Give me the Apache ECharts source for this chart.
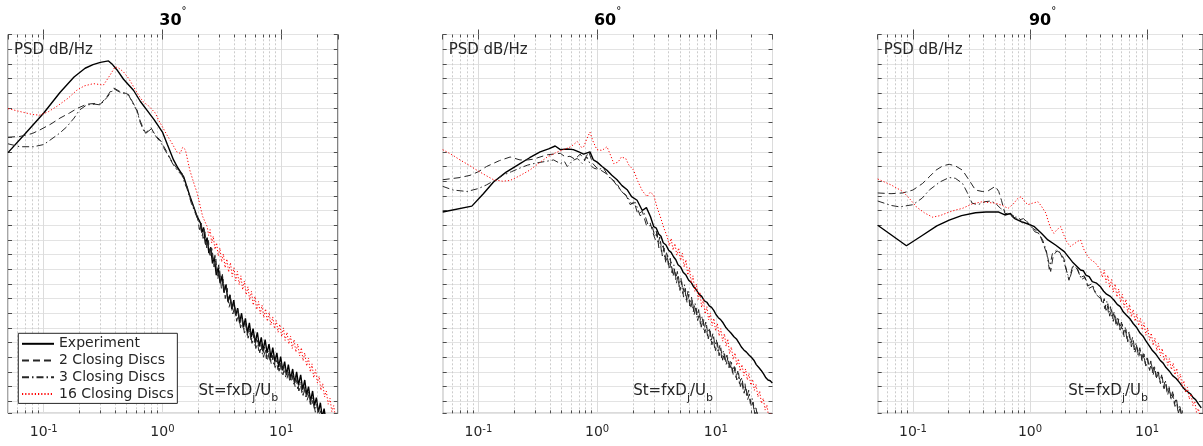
<!DOCTYPE html>
<html><head><meta charset="utf-8">
<script src="https://cdn.jsdelivr.net/npm/echarts@6/dist/echarts.min.js"></script>
<style>html,body{margin:0;padding:0;background:#fff}#c{width:1203px;height:446px}</style>
</head><body><div id="c"></div>
<script>
// ---------------- data ----------------
const panelTitles = ['30', '60', '90'];
const seriesNames = ['Experiment', '2 Closing Discs', '3 Closing Discs', '16 Closing Discs'];
const yLabelText = 'PSD dB/Hz';
const xLabelParts = ['St=fxD', 'j', '/U', 'b'];
const xMin = 0.05, xMax = 30;
const yMin = 48.36, yMax = 100;          // dB range shown (2 dB per grid line)
const yGridStep = 2;
const minorX = [0.06,0.07,0.08,0.09,0.2,0.3,0.4,0.5,0.6,0.7,0.8,0.9,2,3,4,5,6,7,8,9,20];

// ---- 30 deg ----
const exp30 = [[0.05,83.9],[0.07,86.5],[0.1,89.3],[0.137,92.1],[0.18,94.2],[0.223,95.4],[0.26,95.9],[0.3,96.2],[0.351,96.4],[0.38,95.9],[0.413,95.2],[0.47,93.9],[0.57,92.4],[0.65,90.9],[0.74,89.7],[0.85,88.4],[1.0,86.7],[1.1,85.0],[1.24,82.9],[1.35,81.8],[1.51,80.6],[1.7,78.0],[1.96,75.2],[2.09,74.3],
 [2.15,73.0],[2.22,73.7],[2.3,71.5],[2.38,72.3],[2.46,70.2],[2.55,71.0],[2.64,68.8],[2.74,69.6],[2.84,67.2],[2.95,68.2],[3.06,66.1],[3.18,67.1],[3.3,64.8],[3.43,65.9],[3.56,63.6],[3.7,64.5],[3.84,62.6],[3.99,63.8],[4.14,61.7],[4.3,62.7],[4.47,60.7],[4.64,62.0],[4.82,60.1],[5.0,61.3],[5.2,59.3],[5.4,60.7],[5.6,58.7],[5.8,59.9],[6.05,58.0],[6.3,59.4],[6.55,57.5],[6.8,58.7],[7.05,56.9],[7.33,58.4],[7.6,56.6],[7.9,57.8],[8.2,55.9],[8.5,57.3],[8.85,55.4],[9.2,56.6],[9.55,54.7],[9.9,56.1],[10.3,54.2],[10.7,55.4],[11.1,53.6],[11.5,55.0],[12.0,53.1],[12.5,54.4],[13.0,52.5],[13.5,54.0],[14.0,52.2],[14.6,53.6],[15.2,51.6],[15.8,52.9],[16.4,50.9],[17.0,52.0],[17.7,50.0],[18.4,51.4],[19.1,49.4],[19.8,50.5],[20.6,48.5],[21.4,49.8],[22.2,47.8],[23.0,49.0],[24,47.0],[25,47.5]];
const d2_30 = [[0.05,86.0],[0.063,86.1],[0.08,86.5],[0.093,87.0],[0.115,87.8],[0.137,88.6],[0.165,89.3],[0.19,89.9],[0.23,90.5],[0.27,90.6],[0.30,90.5],[0.34,91.5],[0.37,92.4],[0.39,92.7],[0.43,92.3],[0.485,92.0],[0.52,91.8],[0.56,90.8],[0.61,89.7],[0.65,88.2],[0.69,87.2],[0.72,86.6],[0.76,86.9],[0.8,87.3],[0.84,86.7],[0.9,86.0],[0.96,85.6],[1.02,84.8],[1.09,84.0],[1.17,83.0],[1.24,82.4],[1.33,81.7],[1.46,81.1],[1.55,79.8],[1.61,79.3],[1.75,77.3],[1.96,75.2],
 [2.05,73.4],[2.12,74.3],[2.2,72.2],[2.28,73.1],[2.36,70.9],[2.44,71.9],[2.53,69.6],[2.62,70.8],[2.72,68.3],[2.82,69.4],[2.92,66.6],[3.03,68.0],[3.14,65.3],[3.26,66.6],[3.38,64.0],[3.51,65.4],[3.64,62.8],[3.78,63.9],[3.92,61.9],[4.07,63.0],[4.22,60.9],[4.38,62.0],[4.55,60.0],[4.72,61.2],[4.9,59.3],[5.08,60.4],[5.27,58.6],[5.47,59.7],[5.68,57.9],[5.9,59.0],[6.12,57.2],[6.35,58.3],[6.6,56.6],[6.85,57.7],[7.1,56.0],[7.37,57.1],[7.65,55.6],[7.95,56.6],[8.25,55.1],[8.55,56.2],[8.9,54.6],[9.25,55.7],[9.6,54.1],[9.95,55.2],[10.35,53.6],[10.75,54.7],[11.2,53.1],[11.6,54.2],[12.1,52.6],[12.6,53.6],[13.1,52.0],[13.6,53.0],[14.1,51.4],[14.7,52.4],[15.3,50.8],[15.9,51.8],[16.5,50.1],[17.2,51.0],[17.9,49.3],[18.6,50.2],[19.4,48.5],[20.2,49.3],[21.0,47.6],[21.9,48.4],[23,46.8]];
const d3_30 = [[0.05,85.1],[0.063,84.7],[0.082,84.7],[0.1,85.0],[0.113,85.6],[0.135,86.5],[0.156,87.4],[0.18,88.6],[0.2,89.7],[0.23,90.4],[0.27,90.5],[0.30,90.4],[0.34,91.4],[0.39,92.6],[0.43,92.2],[0.485,91.9],[0.52,91.7],[0.56,90.7],[0.61,89.6],[0.65,88.0],[0.69,87.0],[0.72,86.5],[0.76,86.8],[0.8,87.1],[0.84,86.6],[0.9,85.9],[0.96,85.4],[1.02,84.6],[1.09,83.8],[1.17,82.9],[1.24,82.2],[1.33,81.5],[1.46,80.8],[1.55,79.6],[1.61,79.0],[1.75,77.0],[1.96,75.0],
 [2.08,74.1],[2.16,72.6],[2.24,73.5],[2.32,71.3],[2.4,72.3],[2.49,70.0],[2.58,71.1],[2.67,68.8],[2.77,69.9],[2.87,67.4],[2.98,68.6],[3.09,66.0],[3.2,67.3],[3.32,64.8],[3.45,65.9],[3.58,63.5],[3.71,64.7],[3.85,62.4],[4.0,63.5],[4.15,61.5],[4.31,62.5],[4.47,60.6],[4.64,61.6],[4.81,59.7],[4.99,60.8],[5.18,59.0],[5.38,60.0],[5.58,58.2],[5.79,59.3],[6.01,57.6],[6.24,58.6],[6.48,56.9],[6.72,58.0],[6.97,56.3],[7.24,57.4],[7.51,55.8],[7.8,56.9],[8.1,55.3],[8.4,56.3],[8.72,54.8],[9.05,55.9],[9.4,54.3],[9.75,55.4],[10.1,53.8],[10.5,54.9],[10.9,53.3],[11.35,54.4],[11.8,52.8],[12.3,53.8],[12.8,52.3],[13.3,53.3],[13.8,51.7],[14.4,52.7],[15.0,51.0],[15.6,52.0],[16.2,50.4],[16.9,51.3],[17.6,49.6],[18.3,50.5],[19.1,48.8],[19.9,49.6],[20.7,47.9],[21.5,48.7],[22.5,47.0]];
const r16_30 = [[0.05,89.9],[0.063,89.5],[0.08,89.1],[0.093,89.0],[0.11,89.5],[0.129,90.2],[0.16,91.3],[0.19,92.4],[0.22,93.0],[0.262,93.3],[0.29,93.2],[0.318,93.1],[0.34,93.8],[0.363,94.5],[0.40,95.6],[0.43,95.4],[0.47,94.9],[0.52,94.0],[0.57,92.9],[0.63,91.7],[0.69,90.8],[0.76,90.3],[0.87,89.3],[0.93,88.3],[1.0,87.4],[1.1,86.2],[1.22,85.0],[1.32,84.0],[1.41,83.8],[1.48,84.6],[1.56,84.3],[1.7,81.5],[1.85,79.6],[1.96,78.4],[2.08,76.6],[2.18,75.2],[2.38,73.8],
 [2.45,72.6],[2.52,73.4],[2.6,71.6],[2.68,72.5],[2.77,70.7],[2.86,71.6],[2.95,69.8],[3.05,70.9],[3.15,69.0],[3.26,70.1],[3.37,68.2],[3.49,69.4],[3.61,67.6],[3.74,68.9],[3.87,67.0],[4.0,68.2],[4.14,66.4],[4.28,67.7],[4.43,65.9],[4.58,67.1],[4.74,65.2],[4.9,66.4],[5.07,64.5],[5.25,65.6],[5.43,63.8],[5.62,65.0],[5.82,63.1],[6.02,64.3],[6.23,62.5],[6.45,63.6],[6.67,61.9],[6.9,63.1],[7.14,61.4],[7.39,62.6],[7.65,60.9],[7.92,62.1],[8.2,60.4],[8.49,61.5],[8.79,59.9],[9.1,61.0],[9.42,59.4],[9.75,60.5],[10.1,58.8],[10.45,60.0],[10.8,58.3],[11.2,59.4],[11.6,57.8],[12.0,58.9],[12.4,57.2],[12.85,58.4],[13.3,56.7],[13.8,57.8],[14.3,56.2],[14.8,57.3],[15.3,55.5],[15.8,56.6],[16.4,54.8],[17.0,55.9],[17.6,54.0],[18.2,55.1],[18.8,53.2],[19.5,54.3],[20.2,52.5],[20.9,53.4],[21.6,51.5],[22.4,52.4],[23.2,50.6],[24.0,51.4],[24.9,49.6],[25.8,50.4],[26.7,48.6],[27.7,49.4],[28.8,47.6],[30,48.2]];

// ---- 60 deg ----
const exp60 = [[0.05,75.8],[0.088,76.6],[0.11,78.3],[0.134,79.9],[0.17,81.2],[0.224,82.4],[0.27,83.2],[0.331,84.0],[0.39,84.4],[0.443,84.8],[0.49,84.3],[0.56,84.4],[0.63,84.3],[0.7,84.0],[0.77,83.7],[0.87,84.0],[0.93,82.9],[1.0,82.6],[1.1,82.0],[1.21,81.5],[1.33,80.8],[1.47,80.2],[1.62,79.4],[1.8,78.8],[1.95,77.9],[2.17,77.4],[2.4,76.0],[2.6,76.4],[2.81,75.2],
 [3.0,73.8],[3.15,73.6],[3.3,72.8],[3.45,72.5],[3.6,71.6],[3.8,71.3],[4.0,70.6],[4.2,70.3],[4.4,69.7],[4.6,69.3],[4.8,68.6],[5.05,68.3],[5.3,67.6],[5.6,67.2],[5.9,66.5],[6.2,66.2],[6.5,65.6],[6.85,65.2],[7.2,64.6],[7.6,64.3],[8.0,63.7],[8.4,63.5],[8.8,63.0],[9.2,62.8],[9.6,62.4],[10.05,61.8],[10.5,61.4],[11.0,61.1],[11.5,60.7],[12.1,60.1],[12.7,59.7],[13.4,59.3],[14.2,58.8],[14.9,58.5],[15.6,58.0],[16.4,57.4],[17.2,57.0],[18.1,56.7],[19,56.3],[19.9,56.0],[20.9,55.6],[21.9,55.0],[23,54.6],[24.1,54.2],[25.3,53.7],[26.4,53.2],[27.5,52.9],[28.7,52.8],[29.9,52.5]];
const d2_60 = [[0.05,80.2],[0.07,80.5],[0.085,80.8],[0.1,81.3],[0.117,82.0],[0.15,82.8],[0.185,83.3],[0.224,82.9],[0.26,82.9],[0.29,83.0],[0.33,83.3],[0.38,83.6],[0.43,83.7],[0.49,83.8],[0.54,83.3],[0.59,83.4],[0.65,83.0],[0.72,83.7],[0.78,82.9],[0.85,84.0],[0.92,82.4],[0.995,81.8],[1.1,81.4],[1.2,81.0],[1.3,80.4],[1.45,79.8],[1.6,78.6],[1.75,78.1],[1.9,76.8],[2.05,77.2],[2.2,75.5],[2.4,75.9],[2.6,74.0],[2.8,74.3],[3.0,72.6],
 [3.1,72.0],[3.2,72.9],[3.31,70.9],[3.42,71.8],[3.54,69.8],[3.66,70.9],[3.79,68.8],[3.92,69.9],[4.06,67.9],[4.2,69.0],[4.35,67.0],[4.5,68.1],[4.66,66.1],[4.82,67.3],[4.99,65.1],[5.16,66.3],[5.34,64.2],[5.53,65.4],[5.72,63.4],[5.92,64.6],[6.13,62.6],[6.34,63.8],[6.56,61.8],[6.79,63.0],[7.03,61.0],[7.28,62.1],[7.53,60.1],[7.8,61.2],[8.07,59.3],[8.35,60.4],[8.64,58.5],[8.95,59.6],[9.26,57.7],[9.59,58.8],[9.93,56.9],[10.3,58.0],[10.65,56.2],[11.0,57.3],[11.4,55.6],[11.8,56.6],[12.2,55.0],[12.65,56.0],[13.1,54.3],[13.55,55.3],[14.0,53.6],[14.5,54.6],[15.0,52.9],[15.55,53.8],[16.1,52.0],[16.7,52.9],[17.3,51.1],[17.9,52.0],[18.5,50.2],[19.2,51.0],[19.9,49.2],[20.6,49.9],[21.3,48.2],[22.1,48.8],[23,47.2]];
const d3_60 = [[0.05,79.3],[0.061,78.8],[0.07,78.7],[0.08,78.6],[0.1,79.0],[0.117,79.5],[0.14,80.2],[0.16,80.8],[0.19,81.3],[0.224,81.8],[0.26,82.2],[0.31,82.5],[0.37,82.7],[0.43,82.9],[0.49,82.4],[0.53,82.7],[0.56,82.0],[0.62,82.8],[0.68,83.1],[0.75,82.4],[0.82,83.3],[0.88,82.2],[0.93,81.8],[1.02,81.6],[1.13,81.8],[1.25,80.6],[1.38,80.0],[1.5,79.2],[1.65,78.4],[1.8,77.9],[1.95,76.9],[2.1,77.1],[2.3,75.3],[2.5,75.6],[2.7,73.9],[2.9,74.0],[3.05,72.5],
 [3.15,73.2],[3.26,71.5],[3.37,72.4],[3.48,70.4],[3.6,71.4],[3.73,69.3],[3.86,70.4],[3.99,68.4],[4.13,69.5],[4.28,67.5],[4.43,68.6],[4.58,66.6],[4.74,67.7],[4.91,65.6],[5.08,66.8],[5.26,64.7],[5.44,65.9],[5.63,63.8],[5.83,65.0],[6.03,63.0],[6.24,64.2],[6.46,62.2],[6.68,63.4],[6.92,61.4],[7.16,62.5],[7.41,60.5],[7.67,61.6],[7.94,59.7],[8.22,60.8],[8.5,58.9],[8.8,60.0],[9.1,58.1],[9.43,59.2],[9.76,57.3],[10.1,58.4],[10.45,56.6],[10.8,57.6],[11.2,55.9],[11.6,56.9],[12.0,55.3],[12.4,56.3],[12.85,54.6],[13.3,55.6],[13.8,53.9],[14.25,54.9],[14.75,53.2],[15.3,54.1],[15.8,52.4],[16.4,53.3],[17.0,51.5],[17.6,52.4],[18.2,50.6],[18.9,51.5],[19.5,49.7],[20.2,50.4],[21.0,48.7],[21.7,49.3],[22.5,47.7],[23.5,47.2]];
const r16_60 = [[0.05,84.3],[0.06,83.6],[0.07,82.9],[0.083,82.2],[0.097,81.5],[0.115,80.8],[0.134,80.2],[0.16,80.0],[0.185,80.1],[0.22,80.7],[0.27,81.5],[0.32,82.4],[0.38,83.3],[0.45,83.9],[0.52,84.3],[0.6,84.7],[0.68,85.4],[0.74,84.6],[0.77,84.7],[0.82,85.8],[0.87,86.7],[0.92,85.5],[0.995,84.3],[1.1,84.2],[1.21,84.7],[1.3,83.5],[1.38,82.4],[1.5,82.6],[1.6,83.3],[1.74,83.1],[1.85,82.2],[2.03,81.5],[2.2,80.0],[2.4,78.7],[2.63,77.9],[2.8,78.5],[3.0,78.1],[3.2,76.4],[3.4,75.2],[3.65,73.6],[3.9,72.4],
 [4.05,71.2],[4.2,72.2],[4.36,70.6],[4.52,71.5],[4.69,69.9],[4.86,70.9],[5.04,69.2],[5.22,70.2],[5.41,68.3],[5.6,69.3],[5.8,67.2],[6.0,68.2],[6.2,66.1],[6.42,67.1],[6.64,65.0],[6.86,66.0],[7.1,63.9],[7.34,64.9],[7.59,62.8],[7.85,63.9],[8.12,61.9],[8.4,62.9],[8.69,61.1],[8.99,62.0],[9.3,60.3],[9.62,61.3],[9.95,59.6],[10.3,60.6],[10.65,58.9],[11.0,59.9],[11.4,58.2],[11.8,59.2],[12.2,57.5],[12.6,58.5],[13.05,56.5],[13.5,57.4],[14.0,55.7],[14.5,56.6],[15.0,54.9],[15.5,55.8],[16.0,54.1],[16.6,55.0],[17.2,53.5],[17.8,54.4],[18.4,52.9],[19.0,53.8],[19.7,52.2],[20.4,53.0],[21.1,51.5],[21.8,52.3],[22.6,50.6],[23.4,51.4],[24.2,49.7],[25.1,50.4],[26.0,48.8],[26.9,49.5],[27.9,47.8],[29,48.3],[30,47.2]];

// ---- 90 deg ----
const exp90 = [[0.05,74.0],[0.088,71.2],[0.12,72.6],[0.16,73.9],[0.204,74.7],[0.26,75.3],[0.342,75.7],[0.42,75.8],[0.54,75.8],[0.61,75.4],[0.68,75.6],[0.74,74.9],[0.84,74.5],[0.95,74.2],[1.09,73.8],[1.25,72.9],[1.42,72.0],[1.65,71.3],[1.96,70.4],[2.3,69.0],[2.7,67.9],
 [2.85,67.8],[3.0,67.2],[3.2,67.0],[3.4,66.3],[3.7,66.1],[4.0,65.6],[4.25,65.0],[4.5,64.6],[4.85,64.3],[5.2,63.8],[5.55,63.2],[5.9,62.9],[6.25,62.2],[6.6,61.8],[7.1,61.3],[7.6,60.6],[8.1,60.1],[8.7,59.3],[9.2,58.9],[9.7,58.3],[10.3,57.7],[11.0,57.0],[11.9,56.4],[12.9,55.6],[13.7,55.2],[14.5,54.6],[15.5,54.1],[16.5,53.5],[17.7,53.1],[19,52.5],[20,52.0],[21,51.6],[22.2,51.3],[23.5,51.0],[24.7,50.5],[26,50.2],[27.5,49.6],[29,49.1]];
const d2_90 = [[0.05,78.4],[0.065,78.3],[0.082,78.4],[0.1,78.8],[0.121,79.7],[0.14,80.7],[0.157,81.5],[0.18,82.1],[0.204,82.3],[0.23,82.1],[0.265,81.5],[0.3,80.2],[0.342,78.8],[0.39,78.6],[0.44,78.7],[0.505,79.3],[0.54,78.6],[0.57,77.4],[0.61,75.6],[0.66,75.6],[0.72,75.0],[0.79,75.2],[0.86,74.3],[0.92,74.7],[1.0,74.0],[1.1,73.1],[1.2,72.9],[1.3,71.4],[1.4,70.0],[1.5,67.7],[1.58,69.9],[1.7,70.5],[1.83,70.2],[1.95,69.4],[2.05,67.8],[2.15,66.5],[2.3,68.3],[2.5,68.2],[2.7,66.9],[2.9,67.1],[3.1,65.7],[3.35,66.0],[3.6,64.8],[4.0,64.3],
 [4.15,63.2],[4.3,64.0],[4.46,62.4],[4.62,63.3],[4.79,61.6],[4.96,62.6],[5.14,60.9],[5.33,61.9],[5.52,60.2],[5.72,61.2],[5.93,59.5],[6.14,60.5],[6.36,58.8],[6.59,59.8],[6.83,58.1],[7.08,59.1],[7.34,57.4],[7.6,58.4],[7.88,56.7],[8.16,57.7],[8.46,56.0],[8.76,57.0],[9.08,55.4],[9.41,56.4],[9.75,54.8],[10.1,55.8],[10.5,54.2],[10.85,55.2],[11.25,53.6],[11.65,54.6],[12.1,53.0],[12.5,54.0],[13.0,52.4],[13.45,53.3],[13.95,51.7],[14.45,52.6],[15.0,50.9],[15.5,51.8],[16.1,50.1],[16.7,51.0],[17.3,49.3],[17.9,50.1],[18.5,48.4],[19.2,49.2],[19.9,47.5]];
const d3_90 = [[0.05,77.3],[0.065,76.7],[0.077,76.5],[0.1,76.8],[0.12,77.7],[0.138,78.8],[0.17,79.9],[0.204,80.5],[0.23,80.4],[0.265,79.7],[0.29,78.5],[0.32,77.0],[0.36,76.8],[0.41,77.2],[0.46,77.3],[0.505,77.0],[0.56,76.3],[0.65,75.6],[0.72,75.3],[0.8,74.7],[0.88,74.9],[0.96,74.3],[1.05,73.6],[1.15,73.2],[1.28,72.0],[1.38,70.5],[1.46,68.0],[1.55,70.1],[1.68,70.6],[1.8,70.3],[1.95,69.0],[2.1,67.2],[2.2,66.9],[2.35,68.5],[2.55,68.0],[2.75,66.6],[2.95,66.9],[3.2,65.4],[3.45,65.7],[3.7,64.5],[4.0,64.0],
 [4.2,63.8],[4.36,62.6],[4.52,63.6],[4.69,61.9],[4.86,62.9],[5.04,61.2],[5.23,62.2],[5.42,60.5],[5.62,61.5],[5.83,59.8],[6.04,60.8],[6.26,59.1],[6.49,60.1],[6.73,58.4],[6.98,59.4],[7.23,57.7],[7.5,58.7],[7.77,57.0],[8.06,58.0],[8.35,56.3],[8.66,57.3],[8.98,55.7],[9.3,56.7],[9.64,55.1],[10.0,56.1],[10.35,54.5],[10.75,55.5],[11.1,53.9],[11.5,54.9],[11.95,53.3],[12.4,54.2],[12.85,52.6],[13.3,53.6],[13.8,51.9],[14.3,52.9],[14.8,51.2],[15.35,52.1],[15.9,50.4],[16.5,51.3],[17.1,49.6],[17.7,50.4],[18.3,48.7],[19.0,49.5],[19.7,47.8],[20.5,48.2],[21.5,47.0]];
const r16_90 = [[0.05,80.3],[0.065,79.5],[0.082,78.6],[0.095,77.5],[0.107,76.5],[0.125,75.7],[0.147,75.1],[0.17,75.3],[0.204,75.8],[0.235,76.1],[0.265,76.3],[0.32,76.9],[0.39,77.2],[0.44,77.1],[0.505,77.0],[0.58,76.7],[0.65,76.3],[0.72,76.9],[0.78,77.6],[0.84,77.9],[0.9,77.2],[0.96,76.8],[1.05,77.0],[1.17,77.2],[1.25,76.6],[1.37,75.6],[1.42,74.7],[1.5,73.6],[1.6,72.9],[1.7,73.4],[1.83,73.8],[1.95,72.6],[2.05,71.8],[2.2,71.1],[2.4,71.5],[2.55,71.8],[2.7,72.0],[2.9,70.6],[3.1,69.8],[3.3,69.3],[3.6,68.9],[4.0,67.9],
 [4.15,66.9],[4.3,67.9],[4.46,66.2],[4.62,67.2],[4.79,65.5],[4.96,66.6],[5.14,64.9],[5.33,66.0],[5.52,64.2],[5.72,65.3],[5.93,63.5],[6.14,64.6],[6.36,62.8],[6.59,63.9],[6.83,62.1],[7.08,63.2],[7.34,61.5],[7.6,62.5],[7.88,60.9],[8.16,61.9],[8.46,60.3],[8.76,61.3],[9.08,59.7],[9.41,60.7],[9.75,59.0],[10.1,60.0],[10.5,58.3],[10.85,59.3],[11.25,57.6],[11.65,58.6],[12.1,56.9],[12.5,57.9],[13.0,56.2],[13.45,57.2],[13.95,55.5],[14.45,56.4],[15.0,54.9],[15.5,55.8],[16.1,54.3],[16.7,55.2],[17.3,53.6],[17.9,54.5],[18.5,52.9],[19.2,53.7],[19.9,52.1],[20.6,52.8],[21.3,51.2],[22.1,51.9],[22.9,50.3],[23.7,51.0],[24.6,49.4],[25.5,50.0],[26.4,48.5],[27.4,49.0],[28.5,47.6],[30,47.2]];

const panelData = [
  [exp30, d2_30, d3_30, r16_30],
  [exp60, d2_60, d3_60, r16_60],
  [exp90, d2_90, d3_90, r16_90]
];

// ---------------- layout / style ----------------
const FONT = 'DejaVu Sans';
const TXT = '#262626';
const gridLefts = [8, 442.7, 877.7];
const gridTop = 34.5, gridW = 329.8, gridH = 378.8;
const lineStyles = [
  {color: '#000000', width: 1.4, type: 'solid'},
  {color: '#262626', width: 1, type: [7, 4]},
  {color: '#262626', width: 1, type: [7, 3, 1.5, 3]},
  {color: '#ff0000', width: 1, type: [1.2, 2]}
];

const chart = echarts.init(document.getElementById('c'), null, {renderer: 'canvas', width: 1203, height: 446});

const grids = [], xAxes = [], yAxes = [], series = [], graphics = [];
const gridCount = (yMax - yMin) / yGridStep;
const tickLen = 0.4; // minor tick length in dB units

panelTitles.forEach((t, p) => {
  const gl = gridLefts[p];
  grids.push({left: gl, top: gridTop, width: gridW, height: gridH, show: true,
    borderColor: '#4d4d4d', borderWidth: 1, backgroundColor: '#ffffff', containLabel: false});
  const xBase = {type: 'log', logBase: 10, gridIndex: p, min: xMin, max: xMax};
  xAxes.push(Object.assign({}, xBase, {
    position: 'bottom',
    axisLine: {show: false},
    axisTick: {show: true, inside: true, length: 5, lineStyle: {color: '#4d4d4d'}},
    splitLine: {show: true, lineStyle: {color: '#dcdcdc', width: 1}},
    axisLabel: {
      show: true, margin: 11, showMinLabel: false, showMaxLabel: false,
      formatter: v => {
        const l = Math.log10(v), e = Math.round(l);
        return Math.abs(l - e) < 1e-6 ? '{b|10}{sup|' + e + '}' : '';
      },
      rich: {
        b: {fontSize: 14, fontFamily: FONT, color: TXT, lineHeight: 16},
        sup: {fontSize: 10, fontFamily: FONT, color: TXT, lineHeight: 10, verticalAlign: 'top'}
      }
    }
  }));
  xAxes.push(Object.assign({}, xBase, {
    position: 'top',
    axisLine: {show: false}, axisLabel: {show: false}, splitLine: {show: false},
    axisTick: {show: true, inside: true, length: 5, lineStyle: {color: '#4d4d4d'}}
  }));
  yAxes.push({type: 'value', gridIndex: p, min: yMin, max: yMax, show: false});
  yAxes.push({type: 'value', gridIndex: p, inverse: true, min: 0, max: gridCount, interval: 1,
    position: 'left', axisLine: {show: false}, axisLabel: {show: false},
    axisTick: {show: true, inside: true, length: 4, lineStyle: {color: '#4d4d4d'}},
    splitLine: {show: true, lineStyle: {color: '#e3e3e3', width: 1}}});
  yAxes.push({type: 'value', gridIndex: p, inverse: true, min: 0, max: gridCount, interval: 1,
    position: 'right', axisLine: {show: false}, axisLabel: {show: false},
    axisTick: {show: true, inside: true, length: 4, lineStyle: {color: '#4d4d4d'}},
    splitLine: {show: false}});

  series.push({
    type: 'line', name: '_minor' + p, xAxisIndex: 2 * p, yAxisIndex: 3 * p, data: [],
    silent: true, animation: false, itemStyle: {color: '#cccccc'},
    markLine: {silent: true, symbol: ['none', 'none'], label: {show: false}, animation: false, z: 1,
      lineStyle: {type: [2, 2], color: '#cccccc', width: 1},
      emphasis: {disabled: true},
      data: minorX.map(v => ({xAxis: v}))}
  });
  const tickSegs = [];
  minorX.forEach(v => {
    tickSegs.push([{coord: [v, yMin]}, {coord: [v, yMin + tickLen]}]);
    tickSegs.push([{coord: [v, yMax]}, {coord: [v, yMax - tickLen]}]);
  });
  series.push({
    type: 'line', name: '_ticks' + p, xAxisIndex: 2 * p, yAxisIndex: 3 * p, data: [],
    silent: true, animation: false, itemStyle: {color: '#4d4d4d'},
    markLine: {silent: true, symbol: ['none', 'none'], label: {show: false}, animation: false, z: 6,
      lineStyle: {type: 'solid', color: '#4d4d4d', width: 1},
      emphasis: {disabled: true}, data: tickSegs}
  });

  panelData[p].forEach((d, k) => {
    series.push({
      type: 'line', name: seriesNames[k], xAxisIndex: 2 * p, yAxisIndex: 3 * p,
      data: d, symbol: 'none', showSymbol: false, clip: true, animation: false,
      lineStyle: lineStyles[k], itemStyle: {color: lineStyles[k].color},
      emphasis: {disabled: true}, z: 3
    });
  });

  const cx = gl + gridW / 2;
  graphics.push({type: 'text', x: cx, y: 21, z: 10, style: {
    text: '{t|' + t + '}{s|°}', align: 'center', verticalAlign: 'middle',
    rich: {
      t: {fontSize: 16, fontWeight: 'bold', fontFamily: FONT, fill: '#000', lineHeight: 30},
      s: {fontSize: 10, fontFamily: FONT, fill: '#000', lineHeight: 11, verticalAlign: 'top'}
    }}});
  graphics.push({type: 'text', x: gl + 6, y: 50, z: 10, style: {
    text: yLabelText, fontSize: 15, fontFamily: FONT, fill: TXT, align: 'left', verticalAlign: 'middle'}});
  graphics.push({type: 'text', x: gl + 190.5, y: 391, z: 10, style: {
    text: '{m|' + xLabelParts[0] + '}{s|' + xLabelParts[1] + '}{m|' + xLabelParts[2] + '}{s|' + xLabelParts[3] + '}',
    align: 'left', verticalAlign: 'middle', fill: TXT,
    rich: {
      m: {fontSize: 15, fontFamily: FONT, fill: TXT, lineHeight: 26},
      s: {fontSize: 11, fontFamily: FONT, fill: TXT, lineHeight: 12, verticalAlign: 'bottom'}
    }}});
});

chart.setOption({
  animation: false,
  backgroundColor: '#ffffff',
  color: ['#262626'],
  grid: grids, xAxis: xAxes, yAxis: yAxes, series: series, graphic: graphics,
  legend: {
    data: seriesNames, orient: 'vertical', left: 18.3, top: 333.3,
    itemWidth: 32, itemHeight: 14, itemGap: 2.7, padding: [3.5, 3.5, 2.5, 2.7],
    borderColor: '#262626', borderWidth: 1, backgroundColor: '#ffffff',
    selectedMode: false,
    itemStyle: {opacity: 0},
    textStyle: {fontSize: 14, fontFamily: FONT, color: TXT}
  }
});
</script></body></html>
